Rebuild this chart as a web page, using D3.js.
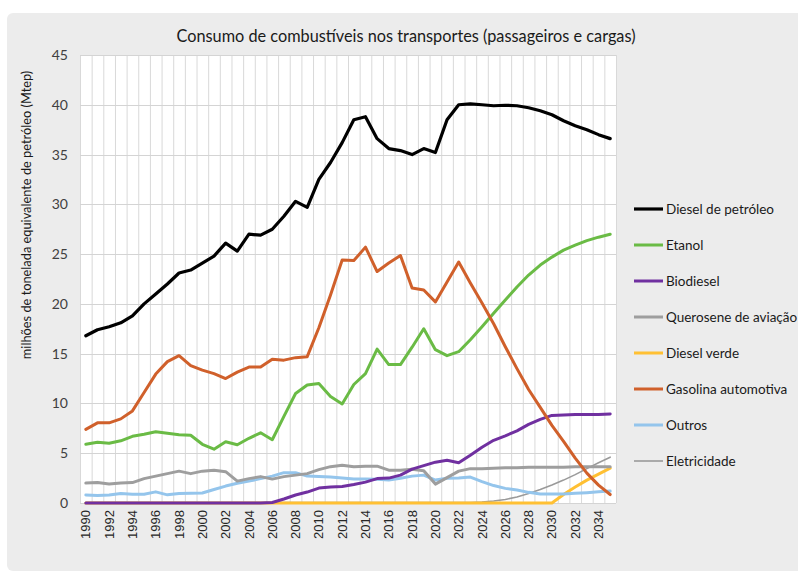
<!DOCTYPE html>
<html><head><meta charset="utf-8">
<script src="https://cdn.jsdelivr.net/npm/d3@7"></script>
<style>body{margin:0;background:#fff;}svg{display:block;font-family:Lato,"Open Sans",sans-serif;}</style>
</head><body><svg id="c" width="798" height="574"></svg>
<script>
const years = d3.range(1990, 2036);
const yTicks = [0,5,10,15,20,25,30,35,40,45];
const seriesNames = ["Diesel de petróleo","Etanol","Biodiesel","Querosene de aviação","Diesel verde","Gasolina automotiva","Outros","Eletricidade"];
const dieselPetroleo = [16.8,17.4,17.7,18.1,18.8,20.0,21.0,22.0,23.1,23.4,24.1,24.8,26.1,25.3,27.0,26.9,27.5,28.8,30.3,29.7,32.5,34.2,36.2,38.5,38.8,36.6,35.6,35.4,35.0,35.6,35.2,38.5,40.0,40.1,40.0,39.9,39.95,39.9,39.7,39.4,39.0,38.4,37.9,37.5,37.0,36.6];
const etanol = [5.9,6.1,6.0,6.25,6.7,6.9,7.15,7.0,6.85,6.8,5.9,5.4,6.15,5.85,6.5,7.05,6.35,8.7,11.0,11.85,12.0,10.7,9.95,11.9,13.0,15.45,13.9,13.9,15.65,17.5,15.4,14.8,15.2,16.4,17.7,19.05,20.4,21.7,22.9,23.9,24.7,25.4,25.9,26.35,26.7,27.0];
const biodiesel = [0,0,0,0,0,0,0,0,0,0,0,0,0,0,0,0,0.05,0.4,0.8,1.1,1.5,1.6,1.65,1.85,2.1,2.45,2.5,2.8,3.4,3.75,4.1,4.3,4.05,4.8,5.6,6.3,6.75,7.25,7.9,8.4,8.8,8.85,8.9,8.9,8.9,8.95];
const querosene = [2.0,2.05,1.9,2.0,2.05,2.45,2.7,2.95,3.2,2.95,3.2,3.3,3.15,2.2,2.45,2.65,2.4,2.65,2.8,2.95,3.35,3.65,3.8,3.65,3.7,3.7,3.3,3.3,3.4,3.25,1.9,2.55,3.2,3.45,3.45,3.5,3.55,3.55,3.6,3.6,3.6,3.6,3.65,3.65,3.65,3.65];
const dieselVerde = [0,0,0,0,0,0,0,0,0,0,0,0,0,0,0,0,0,0,0,0,0,0,0,0,0,0,0,0,0,0,0,0,0,0,0,0,0,0,0,0,0,0.85,1.6,2.3,2.9,3.5];
const gasolina = [7.4,8.05,8.05,8.45,9.25,11.1,12.95,14.2,14.8,13.8,13.35,13.0,12.5,13.15,13.65,13.65,14.45,14.35,14.6,14.7,17.6,20.9,24.4,24.35,25.7,23.25,24.1,24.85,21.6,21.4,20.2,22.2,24.2,22.1,20.1,18.0,15.7,13.5,11.4,9.6,7.8,6.2,4.5,3.0,1.8,0.85];
const outros = [0.8,0.75,0.8,0.95,0.88,0.88,1.12,0.82,0.95,0.97,1.0,1.35,1.7,1.98,2.2,2.45,2.7,3.05,3.05,2.7,2.65,2.6,2.5,2.42,2.4,2.38,2.32,2.48,2.7,2.8,2.3,2.48,2.5,2.6,2.15,1.75,1.47,1.3,1.07,0.9,0.9,0.9,0.97,1.04,1.12,1.2];
const eletricidade = [0.05,0.05,0.05,0.05,0.05,0.05,0.05,0.05,0.05,0.05,0.05,0.05,0.05,0.05,0.05,0.05,0.05,0.05,0.05,0.05,0.05,0.05,0.05,0.05,0.05,0.05,0.05,0.05,0.05,0.05,0.05,0.05,0.05,0.05,0.1,0.2,0.35,0.6,0.95,1.35,1.8,2.3,2.85,3.45,4.05,4.6];
const seriesValues = [dieselPetroleo,etanol,biodiesel,querosene,dieselVerde,gasolina,outros,eletricidade];
const colors = ["#000000","#6abb45","#7030a0","#9e9e9e","#ffc033","#d0602b","#94c5ec","#9a9a9a"];
const widths = [3.2,3,3,3,3,3,3,1.6];
const drawOrder = [7,4,6,3,2,1,5,0];

const svg = d3.select("#c");
const W=798,H=574;
svg.append("rect").attr("x",7).attr("y",13).attr("width",W+10).attr("height",558).attr("rx",6).attr("fill","#ececec");

const m = {l:80, r:616, t:55, b:503};
const x = d3.scaleBand().domain(years).range([m.l, m.r]);
const y = d3.scaleLinear().domain([0,45]).range([m.b, m.t]);

svg.append("rect").attr("x",m.l).attr("y",m.t).attr("width",m.r-m.l).attr("height",m.b-m.t).attr("fill","#fff");

const g = svg.append("g");
years.concat([2036]).forEach((yr,i)=>{
  const xx = i<years.length ? x(yr) : m.r;
  g.append("line").attr("x1",xx+0.5).attr("x2",xx+0.5).attr("y1",m.t).attr("y2",m.b).attr("stroke","#d9d9d9").attr("stroke-width",1);
});
yTicks.forEach(t=>{
  g.append("line").attr("x1",m.l).attr("x2",m.r).attr("y1",Math.round(y(t))+0.5).attr("y2",Math.round(y(t))+0.5).attr("stroke","#d4d4d4").attr("stroke-width",1.2);
});

const yAxis = d3.axisLeft(y).tickValues(yTicks).tickSize(0).tickPadding(12);
const ya = svg.append("g").attr("transform",`translate(${m.l},0)`).call(yAxis);
ya.select(".domain").remove();
ya.selectAll("text").attr("font-size",14).attr("fill","#404040").attr("font-family","Lato, sans-serif");

const xAxis = d3.axisBottom(x).tickValues(years.filter(d=>d%2===0)).tickSize(0).tickFormat(d3.format("d"));
const xa = svg.append("g").attr("transform",`translate(0,${m.b})`).call(xAxis);
xa.select(".domain").remove();
xa.selectAll("text").attr("font-size",13).attr("fill","#262626")
  .attr("transform","rotate(-90)").attr("text-anchor","end").attr("dx","-7").attr("dy","0.35em").attr("x",0).attr("y",0);

const line = d3.line().x((d,i)=>x(years[i])+x.bandwidth()/2).y(d=>y(d));
drawOrder.forEach(k=>{
  svg.append("path").datum(seriesValues[k]).attr("d",line).attr("fill","none")
    .attr("stroke",colors[k]).attr("stroke-width",widths[k]).attr("stroke-linejoin","round").attr("stroke-linecap","round");
});

svg.append("text").attr("x",406).attr("y",42).attr("text-anchor","middle").attr("font-size",16.3).attr("fill","#1a1a1a")
  .text("Consumo de combustíveis nos transportes (passageiros e cargas)");

svg.append("text").attr("transform","translate(31,215) rotate(-90)").attr("text-anchor","middle").attr("font-size",12.8).attr("fill","#1a1a1a")
  .text("milhões de tonelada equivalente de petróleo (Mtep)");

const lg = svg.append("g");
seriesNames.forEach((n,i)=>{
  const yy = 209 + i*36;
  lg.append("line").attr("x1",634).attr("x2",663).attr("y1",yy).attr("y2",yy).attr("stroke",colors[i]).attr("stroke-width",widths[i]);
  lg.append("text").attr("x",666).attr("y",yy).attr("dy","0.35em").attr("font-size",13.5).attr("fill","#1a1a1a").text(n);
});
</script></body></html>
